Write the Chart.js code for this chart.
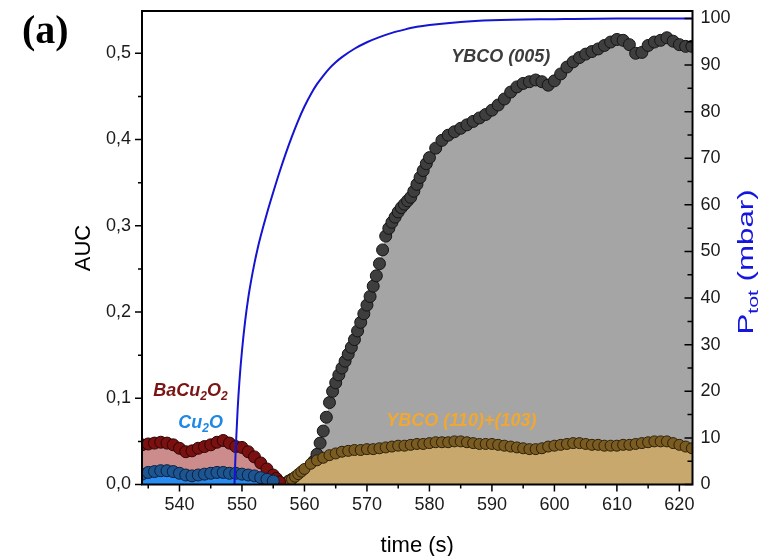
<!DOCTYPE html>
<html>
<head>
<meta charset="utf-8">
<script src="https://cdn.jsdelivr.net/npm/chart.js@4.4.1/dist/chart.umd.min.js"></script>
<style>
  body { margin: 0; background: #fff; }
</style>
</head>
<body>
<canvas id="chart" width="764" height="556"></canvas>
<script>
// axis ticks
const xMajor = [540, 550, 560, 570, 580, 590, 600, 610, 620];
const xMinor = [535, 545, 555, 565, 575, 585, 595, 605, 615];
const aucMajor = [0, 0.1, 0.2, 0.3, 0.4, 0.5];
const aucMinor = [0.05, 0.15, 0.25, 0.35, 0.45];
const pMajor = [0, 10, 20, 30, 40, 50, 60, 70, 80, 90, 100];
const pMinor = [5, 15, 25, 35, 45, 55, 65, 75, 85, 95];

// YBCO (005)
const ybco005Time = [557.5, 558, 559, 560, 560.5, 561, 561.5, 562, 562.5, 563, 563.5, 564, 564.5, 565, 565.5,
  566, 566.5, 567, 567.5, 568, 568.5, 569, 569.5, 570, 570.5, 571, 571.5, 572, 572.5, 573, 573.5, 574, 574.5,
  575, 575.5, 576, 576.5, 577, 577.5, 578, 578.5, 579, 579.5, 580, 581, 582, 583, 584, 585, 586, 587, 588, 589,
  590, 591, 592, 593, 594, 595, 596, 597, 598, 599, 600, 601, 602, 603, 604, 605, 606, 607, 608, 609, 610, 611,
  612, 613, 614, 615, 616, 617, 618, 619, 620, 621, 622];
const ybco005Auc = [0.004, 0.006, 0.010, 0.015, 0.018, 0.022, 0.027, 0.035, 0.048, 0.062, 0.078, 0.095, 0.108, 0.118, 0.127,
  0.135, 0.143, 0.151, 0.159, 0.168, 0.178, 0.188, 0.198, 0.208, 0.218, 0.230, 0.242, 0.256, 0.272, 0.288, 0.297, 0.304, 0.310,
  0.316, 0.321, 0.325, 0.329, 0.333, 0.340, 0.348, 0.356, 0.364, 0.372, 0.379, 0.390, 0.399, 0.405, 0.409, 0.413, 0.417, 0.421, 0.425, 0.429,
  0.434, 0.440, 0.447, 0.455, 0.461, 0.465, 0.467, 0.469, 0.467, 0.463, 0.468, 0.476, 0.484, 0.490, 0.495, 0.499, 0.502, 0.505, 0.509, 0.513, 0.516, 0.515,
  0.510, 0.500, 0.501, 0.509, 0.513, 0.515, 0.518, 0.514, 0.510, 0.508, 0.508];

// YBCO (110)+(103)
const ybco110Time = [557, 557.5, 558, 558.5, 559, 559.5, 560, 561, 562, 563, 564, 565, 566, 567, 568, 569, 570, 571, 572, 573, 574,
  575, 576, 577, 578, 579, 580, 581, 582, 583, 584, 585, 586, 587, 588, 589, 590, 591, 592, 593, 594, 595, 596, 597,
  598, 599, 600, 601, 602, 603, 604, 605, 606, 607, 608, 609, 610, 611, 612, 613, 614, 615, 616, 617, 618, 619, 620, 621, 622];
const ybco110Auc = [0.002, 0.004, 0.006, 0.009, 0.012, 0.015, 0.018, 0.024, 0.028, 0.031, 0.034, 0.036, 0.038, 0.039, 0.040, 0.040, 0.041, 0.041, 0.042, 0.043, 0.044,
  0.045, 0.045, 0.046, 0.047, 0.047, 0.048, 0.049, 0.049, 0.049, 0.050, 0.050, 0.049, 0.048, 0.047, 0.047, 0.047, 0.046, 0.045, 0.044, 0.043, 0.042, 0.041, 0.041,
  0.042, 0.044, 0.045, 0.046, 0.047, 0.048, 0.048, 0.047, 0.046, 0.046, 0.045, 0.045, 0.045, 0.046, 0.046, 0.047, 0.048, 0.049, 0.050, 0.050, 0.050, 0.048, 0.046, 0.044, 0.042];

// BaCu2O2
const bacuTime = [534, 535, 536, 537, 538, 539, 540, 541, 542, 543, 544, 545, 546, 547, 548, 549, 550, 551, 552, 553, 554, 555, 555.5, 556];
const bacuAuc = [0.046, 0.047, 0.048, 0.049, 0.048, 0.046, 0.042, 0.038, 0.039, 0.042, 0.044, 0.046, 0.049, 0.051, 0.048, 0.044, 0.043, 0.038, 0.032, 0.025, 0.018, 0.011, 0.007, 0.003];

// Cu2O
const cuoTime = [534, 535, 536, 537, 538, 539, 540, 541, 542, 543, 544, 545, 546, 547, 548, 549, 550, 551, 552, 553, 554, 555];
const cuoAuc = [0.012, 0.014, 0.015, 0.016, 0.016, 0.015, 0.013, 0.011, 0.010, 0.011, 0.012, 0.013, 0.014, 0.014, 0.013, 0.013, 0.012, 0.011, 0.010, 0.008, 0.006, 0.004];

// total pressure (mbar)
const pTime = [548.8, 549, 549.3, 549.6, 550, 550.5, 551, 551.5, 552, 552.5, 553, 554, 555, 556, 557, 558, 559, 560,
  561, 562, 563, 564, 565, 566, 568, 570, 572, 574, 576, 578, 580, 585, 590, 600, 610, 622];
const pTot = [0, 7.6, 16, 22.3, 28.7, 35, 40, 44, 47.5, 50.6, 53.3, 58.2, 62.7, 67, 71, 74.7, 78.1, 81.1,
  83.7, 85.9, 87.7, 89.3, 90.6, 91.7, 93.5, 94.9, 96, 96.9, 97.6, 98.2, 98.6, 99.25, 99.6, 99.85, 100, 100];

const pts = (t, v) => t.map((x, i) => ({ x: x, y: v[i] }));
const font = '"Liberation Sans", Arial, sans-serif';

function chainSet(label, t, v, fillCol, dotCol, edgeCol, r, order) {
  return {
    label: label,
    data: pts(t, v),
    yAxisID: 'y',
    order: order,
    fill: 'origin',
    backgroundColor: fillCol,
    borderColor: 'rgba(0,0,0,0)',
    borderWidth: 0,
    pointRadius: r,
    pointBackgroundColor: dotCol,
    pointBorderColor: edgeCol,
    pointBorderWidth: 1
  };
}

// text with subscripts: parts = [[text, isSub, style], ...]
function richText(ctx, parts, x, y, size, align) {
  const subSize = Math.round(size * 0.68);
  let w = 0;
  parts.forEach(p => {
    ctx.font = (p[2] || '') + (p[1] ? subSize : size) + 'px ' + font;
    w += ctx.measureText(p[0]).width;
  });
  let cx = align === 'center' ? x - w / 2 : x;
  parts.forEach(p => {
    ctx.font = (p[2] || '') + (p[1] ? subSize : size) + 'px ' + font;
    ctx.fillText(p[0], cx, p[1] ? y + size * 0.3 : y);
    cx += ctx.measureText(p[0]).width;
  });
}

const decor = {
  id: 'decor',
  afterDraw(chart) {
    const { ctx, chartArea: a, scales } = chart;
    const x = scales.x, y = scales.y, y2 = scales.y2;
    ctx.save();
    ctx.strokeStyle = '#000';
    ctx.lineWidth = 1.5;
    ctx.beginPath();
    xMajor.forEach(v => { const px = x.getPixelForValue(v); ctx.moveTo(px, a.bottom); ctx.lineTo(px, a.bottom + 7); });
    xMinor.forEach(v => { const px = x.getPixelForValue(v); ctx.moveTo(px, a.bottom); ctx.lineTo(px, a.bottom + 4); });
    aucMajor.forEach(v => { const py = y.getPixelForValue(v); ctx.moveTo(a.left, py); ctx.lineTo(a.left - 7, py); });
    aucMinor.forEach(v => { const py = y.getPixelForValue(v); ctx.moveTo(a.left, py); ctx.lineTo(a.left - 4, py); });
    pMajor.forEach(v => { const py = y2.getPixelForValue(v); ctx.moveTo(a.right, py); ctx.lineTo(a.right - 8, py); });
    pMinor.forEach(v => { const py = y2.getPixelForValue(v); ctx.moveTo(a.right, py); ctx.lineTo(a.right - 5, py); });
    ctx.stroke();
    ctx.lineWidth = 2;
    ctx.strokeRect(a.left, a.top, a.right - a.left, a.bottom - a.top);

    // panel letter
    ctx.fillStyle = '#000';
    ctx.textBaseline = 'alphabetic';
    ctx.font = 'bold 40px "Liberation Serif", "Times New Roman", serif';
    ctx.fillText('(a)', 22, 43);

    // axis titles
    ctx.textBaseline = 'middle';
    ctx.textAlign = 'center';
    ctx.font = '22px ' + font;
    ctx.fillText('time (s)', (a.left + a.right) / 2, 546);
    ctx.save();
    ctx.translate(84, 248);
    ctx.rotate(-Math.PI / 2);
    ctx.fillText('AUC', 0, 0);
    ctx.restore();
    ctx.textAlign = 'left';
    ctx.save();
    ctx.translate(747, 262);
    ctx.rotate(-Math.PI / 2);
    ctx.scale(1.42, 1);
    ctx.fillStyle = '#1515e0';
    richText(ctx, [['P', false], ['tot', true], [' (mbar)', false]], 0, 0, 22, 'center');
    ctx.restore();

    // series labels
    ctx.textBaseline = 'middle';
    ctx.fillStyle = '#3d3d3d';
    richText(ctx, [['YBCO (005)', false, 'italic bold ']], x.getPixelForValue(591.4), y.getPixelForValue(0.496), 18, 'center');
    ctx.fillStyle = '#f0a832';
    richText(ctx, [['YBCO (110)+(103)', false, 'italic bold ']], x.getPixelForValue(585.1), y.getPixelForValue(0.074), 18, 'center');
    ctx.fillStyle = '#7b1414';
    richText(ctx, [['BaCu', false, 'italic bold '], ['2', true, 'italic bold '], ['O', false, 'italic bold '], ['2', true, 'italic bold ']],
      x.getPixelForValue(535.8), y.getPixelForValue(0.108), 18, 'left');
    ctx.fillStyle = '#1e88e5';
    richText(ctx, [['Cu', false, 'italic bold '], ['2', true, 'italic bold '], ['O', false, 'italic bold ']],
      x.getPixelForValue(539.8), y.getPixelForValue(0.071), 18, 'left');
    ctx.restore();
  }
};

// keep the plot box fixed: no extra room for edge labels
function fixBox(s, size) {
  if (s.isHorizontal()) { s.height = size; s.paddingLeft = 0; s.paddingRight = 0; }
  else { s.width = size; s.paddingTop = 0; s.paddingBottom = 0; }
}

new Chart(document.getElementById('chart'), {
  type: 'line',
  data: {
    datasets: [
      {
        label: 'P tot',
        data: pts(pTime, pTot),
        yAxisID: 'y2',
        order: 0,
        borderColor: '#1414d2',
        borderWidth: 2,
        pointRadius: 0,
        fill: false,
        cubicInterpolationMode: 'monotone'
      },
      chainSet('Cu2O', cuoTime, cuoAuc, '#2a8cf0', '#1d5590', '#0a2040', 6, 1),
      chainSet('BaCu2O2', bacuTime, bacuAuc, '#cc8c8c', '#7a1010', '#2e0404', 6, 2),
      chainSet('YBCO (110)+(103)', ybco110Time, ybco110Auc, '#c8a86c', '#7a5c22', '#2e2008', 5.5, 3),
      chainSet('YBCO (005)', ybco005Time, ybco005Auc, '#a5a5a5', '#3e3e3e', '#151515', 6, 4)
    ]
  },
  options: {
    responsive: false,
    animation: false,
    layout: { padding: { top: 11, left: 0, right: 0, bottom: 0 } },
    plugins: { legend: { display: false }, tooltip: { enabled: false } },
    scales: {
      x: {
        type: 'linear',
        min: 534,
        max: 622.1,
        afterBuildTicks: s => { s.ticks = xMajor.map(v => ({ value: v })); },
        afterFit: s => fixBox(s, 71.5),
        grid: { display: false, drawTicks: true, tickLength: 7 },
        border: { display: false },
        ticks: { padding: 3, maxRotation: 0, color: '#1a1a1a', font: { family: font, size: 18 } }
      },
      y: {
        position: 'left',
        min: 0,
        max: 0.549,
        afterBuildTicks: s => { s.ticks = aucMajor.map(v => ({ value: v })); },
        afterFit: s => fixBox(s, 142),
        grid: { display: false, drawTicks: true, tickLength: 7 },
        border: { display: false },
        ticks: {
          padding: 4,
          color: '#1a1a1a',
          font: { family: font, size: 18 },
          callback: v => v.toFixed(1).replace('.', ',')
        }
      },
      y2: {
        position: 'right',
        min: 0,
        max: 101.6,
        afterBuildTicks: s => { s.ticks = pMajor.map(v => ({ value: v })); },
        afterFit: s => fixBox(s, 71.5),
        grid: { display: false, drawTicks: false },
        border: { display: false },
        ticks: { padding: 8, color: '#1a1a1a', font: { family: font, size: 18 } }
      }
    }
  },
  plugins: [decor]
});
</script>
</body>
</html>
